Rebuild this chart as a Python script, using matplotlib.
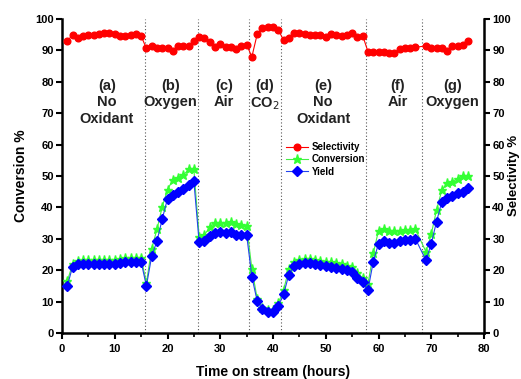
import numpy as np
import matplotlib as mpl
mpl.use('Agg')
import matplotlib.pyplot as plt

plt.rcParams['font.family'] = ['Liberation Sans', 'DejaVu Sans']

# hours on stream (no sample at 68 h)
hours = list(range(1, 68)) + list(range(69, 78))

selectivity = [
    # (a) no oxidant 1-15
    93.0, 94.9, 93.8, 94.6, 94.9, 94.9, 95.2, 95.6, 95.6, 95.2, 94.7, 94.6, 94.9, 95.2, 94.6,
    # (b) oxygen 16-25
    90.6, 91.3, 90.6, 90.6, 90.6, 89.9, 91.3, 91.3, 91.3, 92.9,
    # (c) air 26-35
    94.3, 93.8, 92.8, 91.2, 92.0, 91.0, 91.2, 90.3, 91.5, 91.7,
    # (d) CO2 36-41
    88.0, 95.1, 97.0, 97.3, 97.3, 96.5,
    # (e) no oxidant 42-57
    93.3, 93.8, 95.4, 95.5, 95.2, 95.0, 95.0, 95.0, 94.4, 95.2, 95.0, 94.7, 95.0, 95.4, 94.4, 94.7,
    # (f) air 58-67
    89.6, 89.4, 89.4, 89.4, 89.2, 89.2, 90.3, 90.6, 90.8, 91.0,
    # (g) oxygen 69-77
    91.4, 90.9, 90.7, 90.7, 89.8, 91.3, 91.3, 91.6, 92.9,
]

conversion = [
    16.5, 22.0, 23.0, 23.3, 23.3, 23.3, 23.3, 23.3, 23.3, 23.3, 23.5, 23.8, 23.8, 23.8, 24.0,
    16.0, 26.9, 33.0, 40.2, 45.7, 48.7, 49.5, 50.3, 52.1, 52.1,
    30.7, 31.3, 33.7, 35.1, 35.1, 35.1, 35.4, 34.8, 34.4, 34.1,
    20.4, 11.0, 8.0, 7.5, 7.5, 9.5,
    13.7, 20.4, 22.7, 23.3, 23.5, 23.5, 23.3, 23.0, 22.8, 22.5, 22.3, 22.0, 21.5, 21.0, 19.3, 17.5,
    15.6, 25.4, 32.6, 33.3, 32.6, 32.6, 32.6, 32.8, 32.8, 33.0,
    25.9, 31.5, 39.2, 45.5, 47.7, 48.2, 49.2, 50.0, 50.0,
]

yld = [
    15.0, 21.1, 22.0, 22.0, 22.0, 22.0, 22.0, 22.0, 22.0, 22.0, 22.3, 22.5, 22.5, 22.5, 22.7,
    15.0, 24.5, 29.3, 36.3, 42.8, 44.0, 45.0, 46.0, 47.3, 48.3,
    28.9, 29.3, 31.0, 31.9, 32.2, 31.9, 32.2, 31.3, 31.3, 31.3,
    17.9, 10.2, 7.6, 6.8, 6.8, 8.7,
    12.3, 18.6, 21.3, 22.0, 22.3, 22.3, 22.0, 21.7, 21.3, 21.0, 20.7, 20.3, 20.0, 19.5, 17.7, 16.3,
    13.7, 22.7, 28.5, 29.2, 28.8, 28.8, 29.2, 29.5, 29.8, 30.0,
    23.2, 28.5, 35.5, 41.8, 42.9, 43.6, 44.5, 45.0, 46.1,
]

switch_times = [15.7, 25.8, 35.4, 41.5, 57.6, 68.3]
seg_x = [8.5, 20.5, 30.7, 38.5, 49.5, 63.7, 74.0]
seg_labels = ['(a)\nNo\nOxidant', '(b)\nOxygen', '(c)\nAir', '(d)\nCO$_2$',
              '(e)\nNo\nOxidant', '(f)\nAir', '(g)\nOxygen']

fig = plt.figure(figsize=(5.21, 3.79), dpi=100)
ax = fig.add_axes([0.119, 0.121, 0.810, 0.829])

for t in switch_times:
    ax.axvline(t, color='#555555', linestyle=(0, (1, 2)), linewidth=0.8, zorder=1)

ax.plot(hours, selectivity, color='#ff0000', linewidth=0.8, marker='o',
        markersize=4.8, label='Selectivity', zorder=3)
ax.plot(hours, conversion, color='#44ee44', linewidth=0.8, marker='*',
        markersize=6.5, markerfacecolor='#33ff33', markeredgecolor='#33ff33',
        label='Conversion', zorder=3)
ax.plot(hours, yld, color='#2244ee', linewidth=0.8, marker='D',
        markersize=4.8, markerfacecolor='#0000ff', markeredgecolor='#0000ff',
        label='Yield', zorder=4)

for x, s in zip(seg_x, seg_labels):
    ax.text(x, 81, s, ha='center', va='top', fontsize=10.5, fontweight='bold',
            linespacing=1.25, color='#222222')

ax.set_xlim(0, 80)
ax.set_ylim(0, 100)
ax.set_xticks(np.arange(0, 81, 10))
ax.set_xticks(np.arange(0, 81, 5), minor=True)
ax.set_yticks(np.arange(0, 101, 10))

ax.spines['top'].set_visible(False)
for side in ['left', 'right', 'bottom']:
    ax.spines[side].set_linewidth(1.8)

ax.tick_params(axis='both', which='major', direction='out', length=4, width=1.5,
               labelsize=8, right=True, labelright=True)
ax.tick_params(axis='y', which='major', pad=2)
ax.tick_params(axis='x', which='minor', direction='out', length=3, width=1.2)
for lab in ax.get_xticklabels():
    lab.set_fontweight('bold')
for t in ax.yaxis.get_major_ticks():
    t.label1.set_fontweight('bold')
    t.label2.set_fontweight('bold')

ax.set_xlabel('Time on stream (hours)', fontsize=10, fontweight='bold', labelpad=8)
ax.set_ylabel('Conversion %', fontsize=10, fontweight='bold', labelpad=5)
fig.text(0.986, 0.536, 'Selectivity %', rotation=90, ha='center', va='center',
         fontsize=9.5, fontweight='bold')

ax.legend(loc='upper left', bbox_to_anchor=(0.515, 0.63), frameon=False,
          prop={'size': 7, 'weight': 'bold'}, handlelength=2.2,
          labelspacing=0.25, handletextpad=0.4, borderpad=0.2)

fig.savefig('out.png', dpi=100)
